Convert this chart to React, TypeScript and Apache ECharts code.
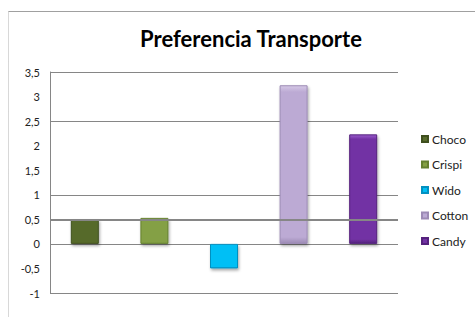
import React, { useEffect, useRef } from "react";
import * as echarts from "echarts";

const categories = ["Choco", "Crispi", "Wido", "Cotton", "Candy"];
const values = [0.5, 0.53, -0.5, 3.23, 2.23];
const colors = ["#576b2c", "#84a044", "#00bff5", "#bcaad4", "#7232a4"];
const borderColors = ["#3f4f1e", "#65802f", "#0390c0", "#9d8bb5", "#55227d"];
const topColors = ["#7d914f", "#a6c066", "#5fd9ff", "#d6c9e6", "#9a5ccc"];
const yMin = -1;
const yMax = 3.5;
const yStep = 0.5;
// visible gridlines from the reference (index from min): -1,-0.5,0,0.5,1,1.5,2,2.5,3,3.5
const gridVisible = [true, false, true, false, true, false, false, true, false, true];
const thickLine = 0.5;

export default function App() {
  const ref = useRef<HTMLDivElement>(null);
  useEffect(() => {
    if (!ref.current) return;
    const chart = echarts.init(ref.current, undefined, { renderer: "svg" });
    const font = "Lato";
    const series = categories.map((name, i) => ({
      name,
      type: "bar",
      barWidth: 28,
      barGap: "-100%",
      data: categories.map((_, j) => (j === i ? values[i] : null)),
      itemStyle: {
        color: new echarts.graphic.LinearGradient(0, 0, 0, 1, [
          { offset: 0, color: topColors[i] },
          { offset: 0.04, color: colors[i] },
          { offset: 0.96, color: colors[i] },
          { offset: 1, color: borderColors[i] },
        ]),
        borderColor: borderColors[i],
        borderWidth: 1,
        shadowColor: "rgba(0,0,0,0.35)",
        shadowBlur: 3,
        shadowOffsetX: 1,
        shadowOffsetY: 2,
      },
      markLine:
        i === 0
          ? {
              silent: true,
              symbol: "none",
              label: { show: false },
              lineStyle: { color: "#868686", width: 2, type: "solid" },
              data: [{ yAxis: thickLine }],
            }
          : undefined,
    }));
    chart.setOption({
      animation: false,
      backgroundColor: "#ffffff",
      title: {
        text: "Preferencia Transporte",
        left: 246,
        textAlign: "center",
        top: 22,
        textStyle: { fontFamily: font, fontWeight: "bold", fontSize: 22, color: "#000" },
      },
      legend: {
        orient: "vertical",
        left: 416,
        top: 128,
        itemWidth: 6,
        itemHeight: 6,
        itemGap: 13.5,
        icon: "rect",
        data: categories,
        textStyle: { fontFamily: font, fontSize: 12, color: "#222", padding: [0, 0, 0, -1] },
      },
      grid: { left: 50, right: 77, top: 72, bottom: 24 },
      xAxis: {
        type: "category",
        data: categories,
        axisLine: { show: false },
        axisTick: { show: false },
        axisLabel: { show: false },
        splitLine: { show: false },
      },
      yAxis: {
        type: "value",
        min: yMin,
        max: yMax,
        interval: yStep,
        axisLine: { show: true, lineStyle: { color: "#868686", width: 1 } },
        axisTick: { show: false },
        axisLabel: {
          margin: 10,
          fontFamily: font,
          fontSize: 11,
          color: "#222",
          formatter: (v: number) => String(v).replace(".", ","),
        },
        splitLine: {
          show: true,
          lineStyle: {
            color: gridVisible.map((s) => (s ? "#868686" : "rgba(0,0,0,0)")),
            width: 1,
          },
        },
      },
      graphic: [
        {
          type: "line",
          shape: { x1: 8.5, y1: 11.5, x2: 475, y2: 11.5 },
          style: { stroke: "#a0a0a0", lineWidth: 1 },
        },
        {
          type: "line",
          shape: { x1: 8.5, y1: 11.5, x2: 8.5, y2: 317 },
          style: { stroke: "#b0b0b0", lineWidth: 1, lineDash: [1, 1] },
        },
      ],
      series,
    });
    return () => chart.dispose();
  }, []);
  return (
    <div
      ref={ref}
      style={{ position: "fixed", left: 0, top: 0, width: 475, height: 317, background: "#fff" }}
    />
  );
}
